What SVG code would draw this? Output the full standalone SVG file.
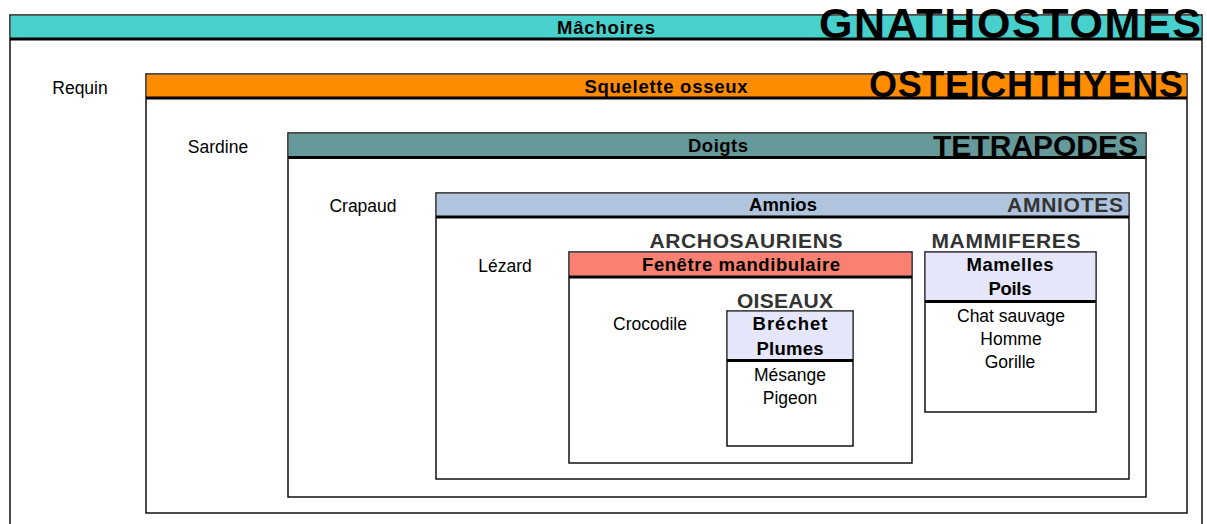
<svg xmlns="http://www.w3.org/2000/svg" width="1207" height="524" viewBox="0 0 1207 524">
<style>
.box{fill:#fff;stroke:#111;stroke-width:1.5}
.sep{stroke:#000;stroke-width:3}
.hdr{font-family:"Liberation Sans",Arial,sans-serif;font-weight:bold;font-size:18.5px;fill:#000;text-anchor:middle}
.lbl{font-family:"Liberation Sans",Arial,sans-serif;font-size:17.5px;fill:#000;text-anchor:middle}
.big{font-family:"Liberation Sans",Arial,sans-serif;font-weight:bold;fill:#000;text-anchor:end}
.mid{font-family:"Liberation Sans",Arial,sans-serif;font-weight:bold;fill:#333;text-anchor:middle}
</style>
<rect width="1207" height="524" fill="#fff"/>
<g id="gnathostomes">
<rect class="box" x="10" y="15" width="1192" height="520"/>
<rect x="10.75" y="15.75" width="1190.5" height="23" fill="#48D1CC"/>
<line class="sep" x1="10" y1="39" x2="1202" y2="39"/>
<text class="hdr" x="606" y="34" textLength="98">Mâchoires</text>
<text class="big" x="1201" y="38" font-size="43" textLength="382">GNATHOSTOMES</text>
<text class="lbl" x="80" y="94">Requin</text>
</g>
<g id="osteichthyens">
<rect class="box" x="146" y="74" width="1041" height="439"/>
<rect x="146.75" y="74.75" width="1039.5" height="23" fill="#FF8C00"/>
<line class="sep" x1="146" y1="98" x2="1187" y2="98"/>
<text class="hdr" x="666" y="93" textLength="163">Squelette osseux</text>
<text class="big" x="1183" y="97" font-size="36" textLength="314">OSTEICHTHYENS</text>
<text class="lbl" x="218" y="153">Sardine</text>
</g>
<g id="tetrapodes">
<rect class="box" x="288" y="133" width="858" height="364"/>
<rect x="288.75" y="133.75" width="856.5" height="23" fill="#669999"/>
<line class="sep" x1="288" y1="157.5" x2="1146" y2="157.5"/>
<text class="hdr" x="718" y="152" textLength="60">Doigts</text>
<text class="big" x="1138" y="156" font-size="30" textLength="205">TETRAPODES</text>
<text class="lbl" x="363" y="212">Crapaud</text>
</g>
<g id="amniotes">
<rect class="box" x="436" y="193" width="693" height="286"/>
<rect x="436.75" y="193.75" width="691.5" height="22.5" fill="#B0C4DE"/>
<line class="sep" x1="436" y1="217" x2="1129" y2="217"/>
<text class="hdr" x="783" y="211" textLength="68">Amnios</text>
<text class="big" x="1123" y="212" font-size="21" style="fill:#333" textLength="116">AMNIOTES</text>
<text class="lbl" x="505" y="272">Lézard</text>
</g>
<g id="archosauriens">
<text class="mid" x="746" y="248" font-size="21" textLength="193">ARCHOSAURIENS</text>
<rect class="box" x="569" y="252" width="343" height="211"/>
<rect x="569.75" y="252.75" width="341.5" height="23" fill="#FA8072"/>
<line class="sep" x1="569" y1="277" x2="912" y2="277"/>
<text class="hdr" x="741" y="271" textLength="198">Fenêtre mandibulaire</text>
<text class="lbl" x="650" y="330">Crocodile</text>
</g>
<g id="oiseaux">
<text class="mid" x="785" y="308" font-size="21" textLength="96">OISEAUX</text>
<rect class="box" x="727" y="311" width="126" height="135"/>
<rect x="727.75" y="311.75" width="124.5" height="48.5" fill="#E6E6FA"/>
<line class="sep" x1="727" y1="360.5" x2="853" y2="360.5"/>
<text class="hdr" x="790" y="330" textLength="75">Bréchet</text>
<text class="hdr" x="790" y="355" textLength="67">Plumes</text>
<text class="lbl" x="790" y="381">Mésange</text>
<text class="lbl" x="790" y="404">Pigeon</text>
</g>
<g id="mammiferes">
<text class="mid" x="1006" y="248" font-size="21" textLength="149">MAMMIFERES</text>
<rect class="box" x="925" y="252" width="171" height="160"/>
<rect x="925.75" y="252.75" width="169.5" height="48" fill="#E6E6FA"/>
<line class="sep" x1="925" y1="301.5" x2="1096" y2="301.5"/>
<text class="hdr" x="1010" y="271" textLength="87">Mamelles</text>
<text class="hdr" x="1010" y="295" textLength="43">Poils</text>
<text class="lbl" x="1011" y="322">Chat sauvage</text>
<text class="lbl" x="1011" y="345">Homme</text>
<text class="lbl" x="1010" y="368">Gorille</text>
</g>
<g id="connectors"></g>
</svg>
